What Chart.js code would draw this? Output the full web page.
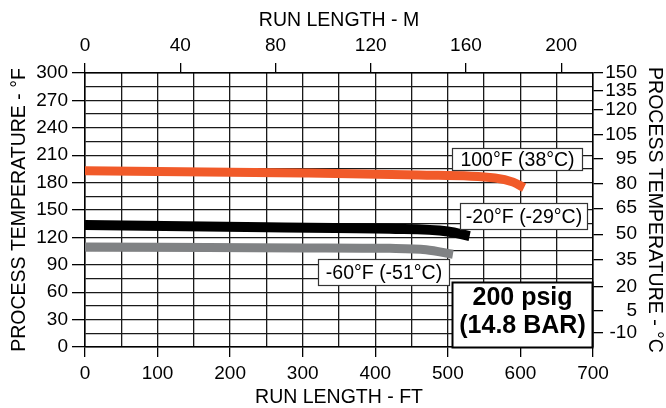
<!DOCTYPE html>
<html>
<head>
<meta charset="utf-8">
<script src="https://cdn.jsdelivr.net/npm/chart.js@4"></script>
<style>
  html, body { margin: 0; padding: 0; background: #fff; }
  #wrap { width: 666px; height: 408px; }
</style>
</head>
<body>
<div id="wrap"><canvas id="c" width="666" height="408"></canvas></div>
<script>
// ---- data ----
const runFt100F = [0, 300, 460, 565, 590, 605];
const temp100F  = [193, 190.5, 188.3, 185, 180.5, 174.5];
const runFtM20F = [0, 250, 420, 500, 530];
const tempM20F  = [133.5, 131, 129.5, 126.5, 121.5];
const runFtM60F = [0, 300, 420, 470, 507];
const tempM60F  = [109.5, 108.5, 108, 106.5, 101.5];

const seriesNames = ['100°F (38°C)', '-20°F (-29°C)', '-60°F (-51°C)'];
const pressureLabel = ['200 psig', '(14.8 BAR)'];

const ftTicks = [0, 100, 200, 300, 400, 500, 600, 700];
const mTicks = [0, 40, 80, 120, 160, 200];
const fTicks = [0, 30, 60, 90, 120, 150, 180, 210, 240, 270, 300];
const cTickLabels = [150, 135, 120, 105, 95, 80, 65, 50, 35, 20, 5, -10];
const cTickAtF    = [300, 281, 259.5, 232, 206, 178.5, 152, 123.5, 95.5, 66, 39.5, 15.5];

const FT_PER_M = 3.28084;
const FONT = '"Liberation Sans", Arial, Helvetica, sans-serif';

// label box anchors (data units: ft, °F)
const boxes = [
  { text: [seriesNames[0]], x1: 505.7, x2: 684.8, y1: 217.9, y2: 193.8, bold: false },
  { text: [seriesNames[1]], x1: 516.7, x2: 691.7, y1: 157.7, y2: 129.2, bold: false },
  { text: [seriesNames[2]], x1: 321, x2: 501.6, y1: 96.4, y2: 67.9, bold: false },
  { text: pressureLabel, x1: 505.7, x2: 698.6, y1: 71.2, y2: 0, bold: true }
];

const toXY = (xs, ys) => xs.map((x, i) => ({ x: x, y: ys[i] }));

const bgPlugin = {
  id: 'bg',
  beforeDraw(chart) {
    const ctx = chart.ctx;
    ctx.save();
    ctx.fillStyle = '#fff';
    ctx.fillRect(0, 0, chart.width, chart.height);
    ctx.restore();
  }
};

const boxPlugin = {
  id: 'boxes',
  afterDatasetsDraw(chart) {
    const ctx = chart.ctx;
    const xs = chart.scales.x, ys = chart.scales.y;
    ctx.save();
    boxes.forEach(b => {
      const l = Math.round(xs.getPixelForValue(b.x1)) + 0.5;
      const r = Math.round(xs.getPixelForValue(b.x2)) + 0.5;
      const t = Math.round(ys.getPixelForValue(b.y1)) + 0.5;
      const btm = Math.round(ys.getPixelForValue(b.y2)) + 0.5;
      ctx.fillStyle = '#fff';
      ctx.fillRect(l, t, r - l, btm - t);
      ctx.strokeStyle = b.bold ? '#000' : '#333';
      ctx.lineWidth = b.bold ? 2 : 1.2;
      ctx.strokeRect(l, t, r - l, btm - t);
      ctx.fillStyle = '#000';
      ctx.textAlign = 'center';
      ctx.textBaseline = 'middle';
      ctx.font = (b.bold ? 'bold 25px ' : '19.5px ') + FONT;
      const cx = (l + r) / 2;
      const n = b.text.length;
      const lh = b.bold ? 28 : 22;
      const cy = (t + btm) / 2;
      b.text.forEach((s, i) => {
        ctx.fillText(s, cx, cy + (i - (n - 1) / 2) * lh + (b.bold ? -3 : 1));
      });
    });
    ctx.restore();
  }
};

const gridColor = '#1a1a1a';

new Chart(document.getElementById('c'), {
  type: 'line',
  data: {
    datasets: [
      { label: seriesNames[0], data: toXY(runFt100F, temp100F), borderColor: '#F15A29', borderWidth: 9 },
      { label: seriesNames[1], data: toXY(runFtM20F, tempM20F), borderColor: '#000000', borderWidth: 10 },
      { label: seriesNames[2], data: toXY(runFtM60F, tempM60F), borderColor: '#808284', borderWidth: 9 }
    ].map(d => Object.assign(d, {
      pointRadius: 0, fill: false, cubicInterpolationMode: 'monotone',
      borderCapStyle: 'butt', borderJoinStyle: 'round'
    }))
  },
  options: {
    responsive: false,
    animation: false,
    devicePixelRatio: 1,
    layout: { padding: 0 },
    plugins: { legend: { display: false }, tooltip: { enabled: false }, title: { display: false } },
    scales: {
      x: {
        type: 'linear', position: 'bottom', min: 0, max: 700,
        ticks: {
          stepSize: 50, autoSkip: false, maxRotation: 0, padding: 5, color: '#000',
          font: { family: FONT, size: 19 },
          callback: v => ftTicks.includes(v) ? String(v) : ''
        },
        grid: {
          color: gridColor, lineWidth: 1.3, tickLength: 10,
          tickColor: ctx => (ctx.tick && ftTicks.includes(ctx.tick.value)) ? '#000' : 'rgba(0,0,0,0)'
        },
        border: { color: '#000', width: 1.5 },
        title: { display: true, text: 'RUN LENGTH - FT', color: '#000', font: { family: FONT, size: 19.5, lineHeight: 1 }, padding: { top: 0, bottom: 1 } },
        afterFit: s => { s.height = 61; }
      },
      x2: {
        type: 'linear', position: 'top', min: 0, max: 700 / FT_PER_M,
        afterBuildTicks: s => { s.ticks = mTicks.map(v => ({ value: v })); },
        ticks: { autoSkip: false, maxRotation: 0, padding: 6, color: '#000', font: { family: FONT, size: 19 } },
        grid: { drawOnChartArea: false, color: '#000', lineWidth: 1.3, tickLength: 10 },
        border: { color: '#000', width: 1.5 },
        title: { display: true, text: 'RUN LENGTH - M', color: '#000', font: { family: FONT, size: 19.5, lineHeight: 1 }, padding: { top: 11, bottom: 0 } },
        afterFit: s => { s.height = 73; }
      },
      y: {
        type: 'linear', position: 'left', min: 0, max: 300,
        ticks: {
          stepSize: 15, autoSkip: false, padding: 4, color: '#000',
          font: { family: FONT, size: 19 },
          callback: v => fTicks.includes(v) ? String(v) : ''
        },
        grid: {
          color: gridColor, lineWidth: 1.3, tickLength: 13,
          tickColor: ctx => (ctx.tick && fTicks.includes(ctx.tick.value)) ? '#000' : 'rgba(0,0,0,0)'
        },
        border: { color: '#000', width: 1.5 },
        title: { display: true, text: 'PROCESS TEMPERATURE - °F', color: '#000', font: { family: FONT, size: 19.5, lineHeight: 1 }, padding: { top: 10, bottom: 0 } },
        afterFit: s => { s.width = 85; }
      },
      y2: {
        type: 'linear', position: 'right', weight: 0, min: 0, max: 300,
        afterBuildTicks: s => { s.ticks = cTickAtF.map(v => ({ value: v })); },
        ticks: {
          autoSkip: false, padding: 2, color: '#000', crossAlign: 'far',
          font: { family: FONT, size: 19 },
          callback: (v, i) => String(cTickLabels[i])
        },
        grid: { drawOnChartArea: false, color: '#000', lineWidth: 1.3, tickLength: 10 },
        border: { color: '#000', width: 1.5 },
        title: { display: false },
        afterFit: s => { s.width = 44; }
      },
      y3: {
        type: 'linear', position: 'right', weight: 1, min: 0, max: 300,
        ticks: { display: false },
        grid: { display: false, drawTicks: false },
        border: { display: false },
        title: { display: true, text: 'PROCESS TEMPERATURE - °C', color: '#000', font: { family: FONT, size: 19.5, lineHeight: 1 }, padding: { top: 2, bottom: 0 } },
        afterFit: s => { s.width = 29; }
      }
    }
  },
  plugins: [bgPlugin, boxPlugin]
});
</script>
</body>
</html>
